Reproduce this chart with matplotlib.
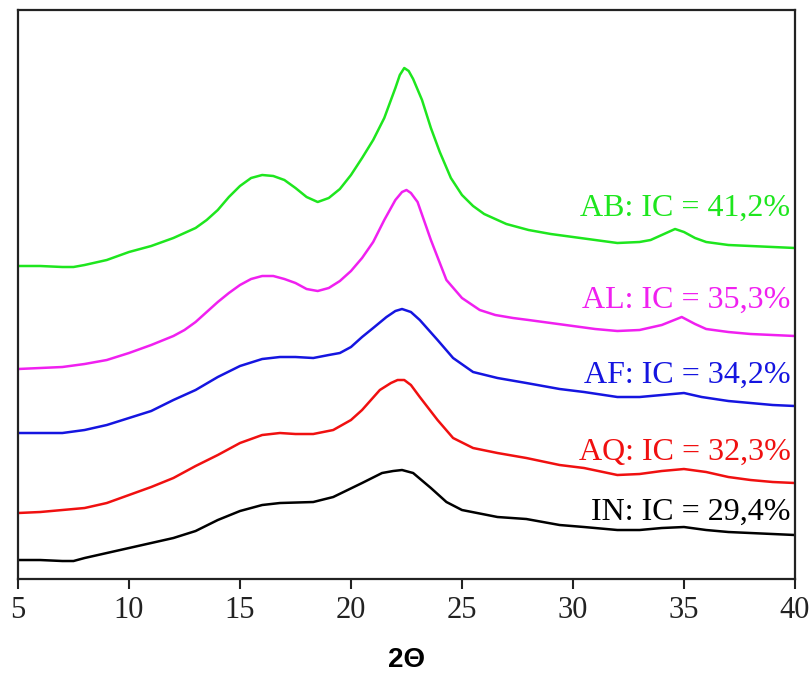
import matplotlib
matplotlib.use("Agg")
import matplotlib.pyplot as plt

# ---- data (arbitrary intensity units, offset stacked) ----
x_AB = [5, 6, 7, 7.5, 8, 9, 10, 11, 12, 12.5, 13, 13.5, 14, 14.5, 15, 15.5, 16, 16.5, 17, 17.5,
        18, 18.5, 19, 19.5, 20, 20.5, 21, 21.5, 22, 22.2, 22.4, 22.6, 22.8, 23.2, 23.6, 24, 24.5,
        25, 25.5, 26, 27, 28, 29, 30, 31, 32, 33, 33.5, 34, 34.6, 35, 35.5, 36, 37, 38, 39, 40]
y_AB = [313, 313, 312, 312, 314, 319, 327, 333, 341, 346, 351, 359, 369, 382, 393, 401, 404, 403,
        399, 391, 382, 377, 381, 390, 404, 421, 439, 461, 491, 504, 511, 508, 500, 479, 451, 427,
        401, 384, 373, 365, 355, 349, 345, 342, 339, 336, 337, 339, 344, 350, 347, 341, 337, 334,
        333, 332, 331]

x_AL = [5, 6, 7, 8, 9, 10, 11, 12, 12.5, 13, 13.5, 14, 14.5, 15, 15.5, 16, 16.5, 17, 17.5, 18,
        18.5, 19, 19.5, 20, 20.5, 21, 21.5, 22, 22.3, 22.5, 22.7, 23, 23.6, 24.3, 25, 25.8, 26.5,
        27.3, 28, 29, 30, 31, 32, 33, 34, 34.9, 35.5, 36, 37, 38, 39, 40]
y_AL = [210, 211, 212, 215, 219, 226, 234, 243, 249, 257, 267, 277, 286, 294, 300, 303, 303, 300,
        296, 290, 288, 291, 298, 308, 321, 337, 359, 379, 387, 389, 386, 377, 339, 299, 281, 269,
        264, 261, 259, 256, 253, 250, 248, 249, 254, 262, 255, 250, 247, 245, 244, 243]

x_AF = [5, 6, 7, 8, 9, 10, 11, 12, 13, 14, 15, 16, 16.8, 17.5, 18.3, 19, 19.5, 20, 20.5, 21,
        21.6, 22.0, 22.3, 22.7, 23.1, 23.5, 23.9, 24.6, 25.5, 26.6, 27.9, 29.4, 30.5, 32, 33, 34,
        35, 35.8, 37, 38, 39, 40]
y_AF = [146, 146, 146, 149, 154, 161, 168, 179, 189, 202, 213, 220, 222, 222, 221, 224, 226, 232,
        242, 251, 262, 268, 270, 267, 259, 249, 239, 221, 207, 201, 196, 190, 187, 182, 182, 184,
        186, 182, 178, 176, 174, 173]

x_AQ = [5, 6, 7, 8, 9, 10, 11, 12, 13, 14, 15, 16, 16.8, 17.5, 18.3, 19.2, 20, 20.5, 21.3, 21.8,
        22.1, 22.4, 22.7, 23.1, 23.9, 24.6, 25.5, 26.6, 27.9, 29.4, 30.5, 32, 33, 34, 35, 36, 37,
        38, 39, 40]
y_AQ = [66, 67, 69, 71, 76, 84, 92, 101, 113, 124, 136, 144, 146, 145, 145, 149, 159, 169, 189,
        196, 199, 199, 194, 182, 159, 141, 131, 126, 121, 114, 111, 104, 105, 108, 110, 107, 102,
        99, 97, 96]

x_IN = [5, 6, 7, 7.5, 8, 9, 10, 11, 12, 13, 14, 15, 16, 16.8, 18.3, 19.2, 20.5, 21.4, 21.9, 22.3,
        22.8, 23.6, 24.3, 25, 26.6, 27.9, 29.4, 30.5, 32, 33, 34, 35, 36, 37, 38, 39, 40]
y_IN = [19, 19, 18, 18, 21, 26, 31, 36, 41, 48, 59, 68, 74, 76, 77, 82, 96, 106, 108, 109, 106,
        91, 77, 69, 62, 60, 54, 52, 49, 49, 51, 52, 49, 47, 46, 45, 44]

labels = ["AB: IC = 41,2%", "AL: IC = 35,3%", "AF: IC = 34,2%", "AQ: IC = 32,3%", "IN: IC = 29,4%"]
label_y = [363, 271, 196, 119, 59]
colors = ["#1ee61e", "#f020f0", "#1515e0", "#f01010", "#000000"]

xticks = [5, 10, 15, 20, 25, 30, 35, 40]

# ---- figure ----
fig = plt.figure(figsize=(8.11, 6.75), dpi=100)
ax = fig.add_axes([0.0222, 0.1422, 0.9580, 0.8430])

series = [(x_AB, y_AB), (x_AL, y_AL), (x_AF, y_AF), (x_AQ, y_AQ), (x_IN, y_IN)]
for (xs, ys), c in zip(series, colors):
    ax.plot(xs, ys, color=c, lw=1.8, solid_joinstyle="round")

for txt, ty, c in zip(labels, label_y, colors):
    ax.text(39.8, ty, txt, color=c, ha="right", va="baseline",
            fontsize=23, family="Liberation Serif")

ax.set_xlim(5, 40)
ax.set_ylim(0, 569)
ax.set_xticks(xticks)
ax.set_xticklabels([str(t) for t in xticks], family="Liberation Serif", fontsize=22)
ax.set_yticks([])
ax.tick_params(axis="x", direction="out", length=7, width=1.5, pad=5, colors="#222222")
for s in ax.spines.values():
    s.set_linewidth(1.6)
    s.set_color("#222222")

ax.set_xlabel("2Θ", family="Liberation Sans", fontweight="bold", fontsize=20, labelpad=16)

fig.savefig("out.png", dpi=100)
